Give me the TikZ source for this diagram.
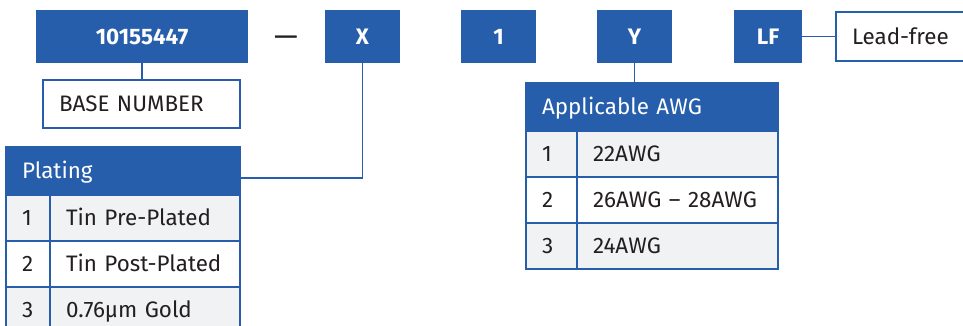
\documentclass[tikz,border=0pt]{standalone}
\usepackage{fontspec}
\setmainfont{Fira Sans}
\usetikzlibrary{positioning}
\definecolor{pnblue}{RGB}{38,94,172}
\definecolor{pngrey}{RGB}{240,242,244}
\definecolor{pntext}{RGB}{35,31,32}
\newcommand{\pnfont}{\fontsize{11.2}{13.4}\selectfont}
\tikzstyle{codebox} = [rectangle,
			fill = pnblue,
			text = white,
			font = \pnfont\bfseries,
			text centered,
			outer sep = 0pt,
			text height = 7.8pt,
			text depth = 0pt,
			minimum width = 37.5pt,
			minimum height = 26.5pt]
\tikzstyle{labelbox} = [rectangle,
			draw = pnblue,
			line width = 1pt,
			fill = white,
			text = pntext,
			font = \pnfont,
			align = left,
			inner xsep = 8pt,
			outer sep = 0pt,
			text height = 7.8pt,
			text depth = 0pt,
			minimum height = 24pt]
\tikzstyle{headcell} = [labelbox,
			fill = pnblue,
			text = white]
\tikzstyle{cell} = [labelbox,
			fill = pngrey,
			minimum height = 23pt]
\tikzstyle{wire} = [draw = pnblue,
			line width = 0.9pt]

\begin{document}
\begin{tikzpicture}[x = 0.5pt, y = 0.5pt, node distance = 0pt]
	\useasboundingbox (0,0) rectangle (963,-326);
	\clip (0,0) rectangle (963,-326);
	% part number fields
	\node [codebox, minimum width = 106pt, anchor = north west] (base) at (36,-10) {10155447};
	\node [font = \fontsize{15}{16}\selectfont, text = pntext] (dash) at (286,-41) {\textemdash};
	\node [codebox, anchor = north west] (plat) at (325,-10) {X};
	\node [codebox, anchor = north west] (fixed) at (461,-10) {1};
	\node [codebox, anchor = north west] (awg) at (597,-10) {Y};
	\node [codebox, minimum width = 34pt, anchor = north west] (lf) at (734,-10) {LF};
	\node [labelbox, text width = 54pt, minimum height = 24.5pt, anchor = north west] (leadfree) at (836,-12) {Lead-free};
	\node [labelbox, text width = 82.5pt, anchor = north west] (basename) at (43,-80) {BASE NUMBER};
	% plating table
	\node [headcell, text width = 101pt, anchor = north west] (plathead) at (6,-147) {Plating};
	\node [cell, text width = 6pt, below = of plathead.south west, anchor = north west] (p1n) {1};
	\node [cell, text width = 79pt, right = of p1n.north east, anchor = north west] (p1t) {Tin Pre-Plated};
	\node [cell, fill = white, text width = 6pt, below = of p1n.south west, anchor = north west] (p2n) {2};
	\node [cell, fill = white, text width = 79pt, right = of p2n.north east, anchor = north west] (p2t) {Tin Post-Plated};
	\node [cell, text width = 6pt, below = of p2n.south west, anchor = north west] (p3n) {3};
	\node [cell, text width = 79pt, right = of p3n.north east, anchor = north west] (p3t) {0.76µm Gold};
	% awg table
	\node [headcell, text width = 110pt, anchor = north west] (awghead) at (526,-83) {Applicable AWG};
	\node [cell, text width = 9.5pt, below = of awghead.south west, anchor = north west] (a1n) {1};
	\node [cell, text width = 84.5pt, right = of a1n.north east, anchor = north west] (a1t) {22AWG};
	\node [cell, fill = white, text width = 9.5pt, below = of a1n.south west, anchor = north west] (a2n) {2};
	\node [cell, fill = white, text width = 84.5pt, right = of a2n.north east, anchor = north west] (a2t) {26AWG – 28AWG};
	\node [cell, text width = 9.5pt, below = of a2n.south west, anchor = north west] (a3n) {3};
	\node [cell, text width = 84.5pt, right = of a3n.north east, anchor = north west] (a3t) {24AWG};
	% connectors
	\draw [wire] (base.south) -- (base.south |- basename.north);
	\draw [wire] (plat.south) |- ([yshift = -3.5pt]plathead.east);
	\draw [wire] (awg.south) -- (awg.south |- awghead.north);
	\draw [wire] (lf.east) -- (leadfree.west);
\end{tikzpicture}
\end{document}
